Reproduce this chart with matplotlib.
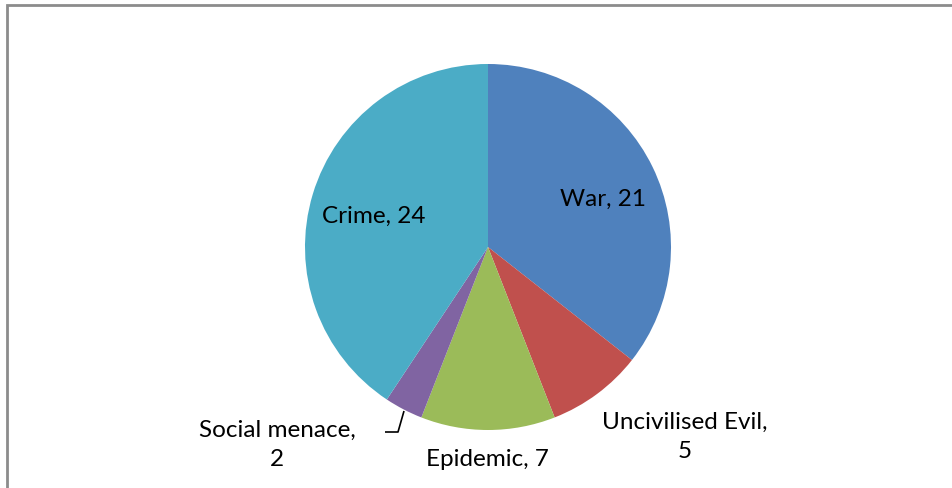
import matplotlib.pyplot as plt
from matplotlib.patches import Rectangle

labels = ["War", "Uncivilised Evil", "Epidemic", "Social menace", "Crime"]
values = [21, 5, 7, 2, 24]
colors = ["#4F81BD", "#C0504D", "#9BBB59", "#8064A2", "#4BACC6"]

W, H = 953, 489
fig = plt.figure(figsize=(W / 100, H / 100), dpi=100)
ax = fig.add_axes([0, 0, 1, 1])

# pie drawn in pixel coordinates (y flipped, so clockwise on screen)
ax.pie(values, colors=colors, startangle=-90, counterclock=True,
       center=(488, 248), radius=183, frame=True,
       wedgeprops=dict(linewidth=0))
ax.set_xlim(0, W)
ax.set_ylim(H, 0)
ax.set_aspect("equal")
ax.axis("off")

font = dict(family=["Lato", "DejaVu Sans"], fontsize=17.5, color="black",
            ha="center", va="center")
ax.text(603, 199, f"{labels[0]}, {values[0]}", **font)
ax.text(685, 437, f"{labels[1]},\n{values[1]}", linespacing=1.45, **font)
ax.text(487, 459, f"{labels[2]}, {values[2]}", **font)
ax.text(277, 445, f"{labels[3]},\n{values[3]}", linespacing=1.5, **font)
ax.text(374, 216, f"{labels[4]}, {values[4]}", **font)

# leader line for the small slice
ax.plot([404, 398, 385], [412, 433, 433], color="black", lw=1.2,
        solid_capstyle="butt")

# chart border
fig.patches.append(Rectangle((7.5 / W, -0.1), 1.2, (H - 6) / H + 0.1,
                             transform=fig.transFigure, fill=False,
                             edgecolor="#8C8C8C", lw=2))

fig.savefig("out.png", dpi=100)
